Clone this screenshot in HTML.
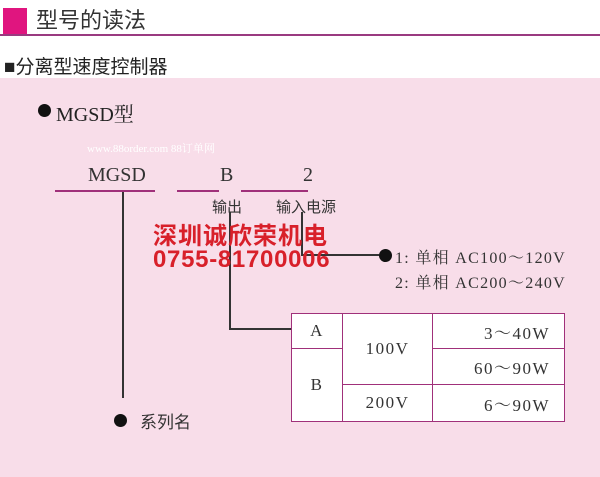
<!DOCTYPE html>
<html><head><meta charset="utf-8"><style>
body{margin:0;width:600px;height:477px;position:relative;overflow:hidden;background:#fff;font-family:"Liberation Serif","Noto Serif CJK SC",serif;}
.a{position:absolute;white-space:nowrap;}
.s{font-family:"Liberation Sans","Noto Sans CJK SC",sans-serif;}
.ln{position:absolute;background:#a0307a;}
.bk{position:absolute;background:#333;}
td{border:1.5px solid #a0307a;text-align:center;font-size:17px;color:#333;padding:0;letter-spacing:1.5px;}
.dot{position:absolute;width:13px;height:13px;border-radius:50%;background:#111;}
</style></head><body>
<div class="a" style="left:3px;top:8px;width:24px;height:27px;background:#e0157f"></div>
<div class="a s" style="left:36px;top:3px;font-size:22px;color:#333">型号的读法</div>
<div class="a" style="left:0;top:34px;width:600px;height:2px;background:#9a3a80"></div>
<div class="a s" style="left:4px;top:52px;font-size:19px;color:#222">■分离型速度控制器</div>
<div class="a" style="left:0;top:78px;width:600px;height:399px;background:#f8dde9"></div>
<div class="dot" style="left:38px;top:104px"></div>
<div class="a" style="left:56px;top:98px;font-size:20px;color:#222">MGSD型</div>
<div class="a" style="left:87px;top:140px;font-size:11px;color:#fff">www.88order.com 88订单网</div>
<div class="a" style="left:88px;top:164px;font-size:20px;color:#333">MGSD</div>
<div class="a" style="left:220px;top:164px;font-size:20px;color:#333">B</div>
<div class="a" style="left:303px;top:164px;font-size:20px;color:#333">2</div>
<div class="ln" style="left:55px;top:190px;width:100px;height:2px"></div>
<div class="ln" style="left:177px;top:190px;width:42px;height:2px"></div>
<div class="ln" style="left:241px;top:190px;width:67px;height:2px"></div>
<div class="a s" style="left:212px;top:196px;font-size:15px;color:#333">输出</div>
<div class="a s" style="left:276px;top:196px;font-size:15px;color:#333">输入电源</div>
<div class="bk" style="left:122px;top:192px;width:1.5px;height:206px"></div>
<div class="dot" style="left:114px;top:414px"></div>
<div class="a s" style="left:140px;top:408px;font-size:17px;color:#333">系列名</div>
<div class="bk" style="left:229px;top:212px;width:1.5px;height:117px"></div>
<div class="bk" style="left:229px;top:328px;width:62px;height:1.5px"></div>
<div class="bk" style="left:301px;top:212px;width:1.5px;height:43px"></div>
<div class="bk" style="left:301px;top:254px;width:78px;height:1.5px"></div>
<div class="a s" style="left:153px;top:216px;font-size:24px;letter-spacing:1px;font-weight:bold;color:#d8202a">深圳诚欣荣机电</div>
<div class="a s" style="left:153px;top:246px;font-size:24px;letter-spacing:0.7px;font-weight:bold;color:#d8202a">0755-81700006</div>
<div class="dot" style="left:379px;top:249px"></div>
<div class="a" style="left:395px;top:245px;font-size:16px;letter-spacing:1.3px;color:#333">1: 单相 AC100～120V</div>
<div class="a" style="left:395px;top:270px;font-size:16px;letter-spacing:1.3px;color:#333">2: 单相 AC200～240V</div>
<table style="position:absolute;left:291px;top:313px;width:274px;height:108px;border-collapse:collapse;background:#fff">
<tr style="height:35px"><td style="width:50px">A</td><td rowspan="2" style="width:89px">100V</td><td style="text-align:right;padding-right:14px">3～40W</td></tr>
<tr style="height:36px"><td rowspan="2">B</td><td style="text-align:right;padding-right:14px">60～90W</td></tr>
<tr style="height:37px"><td>200V</td><td style="text-align:right;padding-right:14px">6～90W</td></tr>
</table>
</body></html>
